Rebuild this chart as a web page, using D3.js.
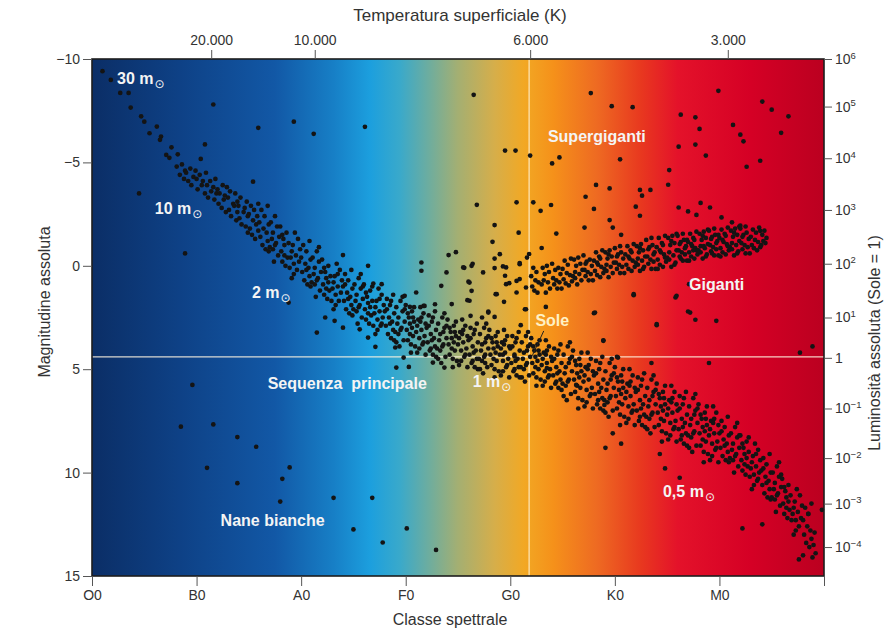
<!DOCTYPE html>
<html><head><meta charset="utf-8">
<script src="https://cdn.jsdelivr.net/npm/d3@7"></script>
<style>
body{margin:0;background:#fff}
text{font-family:"Liberation Sans",Arial,Helvetica,sans-serif}
</style>
</head><body>
<svg id="chart" width="889" height="631"></svg>
<script>
// ---------- axis / tick data ----------
const spectralClasses = ["O0","B0","A0","F0","G0","K0","M0",""];
const tempTickLabels = ["20.000","10.000","6.000","3.000"];
const tempTickClass = [1.14, 2.13, 4.19, 6.08];
const magTicks = [-10,-5,0,5,10,15];
const lumExponents = [6,5,4,3,2,1,0,-1,-2,-3,-4];
const lumTickMag = [-10,-7.7,-5.2,-2.7,-0.1,2.5,4.45,6.9,9.3,11.5,13.6];
const sunPosition = [4.18, 4.4]; // [spectral class, magnitude]

// ---------- stars: [spectral class position, absolute magnitude] ----------
const upperMainSequence = [[0.10,-9.41],[0.18,-8.99],[0.27,-8.36],[0.35,-8.36],[0.37,-7.65],[0.47,-7.23],[0.50,-6.97],[0.62,-6.73],[0.55,-6.41],[0.66,-6.25],[0.65,-6.09],[0.76,-5.73],[0.71,-5.36],[0.74,-5.22],[0.82,-5.39],[1.04,-5.17],
[0.81,-4.8],[0.84,-4.4],[0.86,-4.9],[0.88,-4.2],[0.89,-4.6],
[0.90,-4.5],[0.92,-4.1],[0.94,-4.7],[0.95,-3.9],[0.97,-4.3],[0.99,-4.6],
[1.00,-4.2],[1.01,-3.7],[1.03,-4.4],[1.05,-3.9],[1.06,-4.1],[1.08,-3.5],[1.09,-4.5],
[1.10,-3.9],[1.11,-3.3],[1.13,-4.1],[1.14,-3.6],[1.16,-3.8],[1.17,-3.2],[1.18,-4.2],[1.19,-3.5],
[1.20,-3.7],[1.21,-3.0],[1.22,-3.5],[1.24,-2.8],[1.25,-3.9],[1.26,-3.2],[1.27,-3.4],[1.28,-2.6],[1.29,-3.8],
[1.30,-3.3],[1.31,-2.7],[1.32,-3.6],[1.33,-2.4],[1.35,-3.0],[1.36,-2.9],[1.37,-3.5],[1.38,-2.2],[1.39,-3.1],[1.39,-2.6],
[1.40,-2.9],[1.41,-2.3],[1.42,-3.3],[1.43,-2.0],[1.45,-2.6],[1.46,-2.8],[1.47,-1.9],[1.48,-3.1],[1.49,-2.4],[1.49,-1.6],
[1.50,-2.5],[1.51,-1.8],[1.52,-2.9],[1.53,-1.5],[1.54,-2.2],[1.55,-2.7],[1.56,-1.3],[1.57,-2.0],[1.58,-2.4],[1.59,-1.7],[1.59,-3.0]];

const mainSequence = [
[1.60,-2.1],[1.61,-1.4],[1.62,-2.7],[1.63,-1.0],[1.64,-1.8],[1.65,-2.4],[1.66,-0.8],[1.67,-1.6],[1.68,-2.9],[1.68,-1.2],[1.69,-2.0],[1.69,-0.7],
[1.70,-0.9],[1.71,-2.1],[1.72,-1.3],[1.73,-1.6],[1.74,-0.2],[1.75,-2.4],[1.76,-1.1],[1.77,-1.9],[1.78,-0.5],[1.79,-1.4],[1.73,-0.8],[1.75,-1.0],
[1.80,-1.9],[1.81,-0.7],[1.82,-0.2],[1.83,-1.3],[1.84,-1.0],[1.85,0.0],[1.86,-1.6],[1.87,-0.4],[1.88,-1.1],[1.89,0.1],[1.82,-1.5],[1.84,-0.5],
[1.90,-0.4],[1.91,0.6],[1.92,-1.0],[1.93,-0.1],[1.94,-1.6],[1.95,-0.5],[1.96,0.2],[1.97,-1.3],[1.98,-0.2],[1.99,-0.8],[1.91,-0.7],[1.93,0.4],
[2.00,-0.4],[2.01,0.3],[2.02,-1.0],[2.03,0.7],[2.04,-0.1],[2.05,-0.7],[2.06,0.9],[2.07,0.1],[2.08,-1.2],[2.08,0.5],[2.09,-0.3],[2.09,1.0],[2.05,0.2],
[2.10,0.8],[2.11,-0.4],[2.12,0.4],[2.13,0.1],[2.14,1.5],[2.15,-0.7],[2.16,0.6],[2.17,-0.2],[2.18,1.2],[2.19,0.3],[2.13,0.9],[2.15,0.7],[2.17,-0.9],
[2.20,-0.3],[2.21,0.9],[2.22,1.4],[2.23,0.3],[2.24,0.6],[2.25,1.6],[2.26,0.0],[2.27,1.2],[2.28,0.5],[2.29,1.7],[2.22,0.1],[2.24,1.1],[2.26,0.8],
[2.30,1.1],[2.31,2.1],[2.32,0.5],[2.33,1.4],[2.34,-0.1],[2.35,1.0],[2.36,1.7],[2.37,0.2],[2.38,1.3],[2.39,0.7],[2.31,0.8],[2.33,1.9],[2.35,0.4],
[2.40,1.0],[2.41,1.7],[2.42,0.4],[2.43,2.1],[2.44,1.3],[2.45,0.7],[2.46,2.3],[2.47,1.5],[2.48,0.2],[2.48,1.9],[2.49,1.1],[2.49,2.4],[2.45,1.6],[2.42,0.9],
[2.50,2.1],[2.51,0.9],[2.52,1.7],[2.53,1.4],[2.54,2.8],[2.55,0.6],[2.56,1.9],[2.57,1.1],[2.58,2.5],[2.59,1.6],[2.53,2.2],[2.55,2.0],[2.57,0.4],[2.59,1.0],
[2.60,0.9],[2.61,2.1],[2.62,2.6],[2.63,1.5],[2.64,1.8],[2.65,2.8],[2.66,1.2],[2.67,2.4],[2.68,1.7],[2.69,2.9],[2.62,1.3],[2.64,2.3],[2.66,2.0],[2.68,1.0],
[2.70,2.3],[2.71,3.3],[2.72,1.7],[2.73,2.6],[2.74,1.1],[2.75,2.2],[2.76,2.9],[2.77,1.4],[2.78,2.5],[2.79,1.9],[2.71,2.0],[2.73,3.1],[2.75,1.6],[2.77,2.8],
[2.80,2.2],[2.81,2.9],[2.82,1.6],[2.83,3.3],[2.84,2.5],[2.85,1.9],[2.86,3.5],[2.87,2.7],[2.88,1.4],[2.88,3.1],[2.89,2.3],[2.89,3.6],[2.85,2.8],[2.82,2.1],[2.86,1.7],
[2.90,3.2],[2.91,2.0],[2.92,2.8],[2.93,2.5],[2.94,3.9],[2.95,1.7],[2.96,3.0],[2.97,2.2],[2.98,3.6],[2.99,2.7],[2.93,3.3],[2.95,3.1],[2.97,1.5],[2.99,2.1],[2.91,3.7],
[3.00,1.9],[3.01,3.1],[3.02,3.6],[3.03,2.5],[3.04,2.8],[3.05,3.8],[3.06,2.2],[3.07,3.4],[3.08,2.7],[3.09,3.9],[3.02,2.3],[3.04,3.3],[3.06,3.0],[3.08,2.0],[3.05,4.2],[3.07,2.5],
[3.10,3.2],[3.11,4.2],[3.12,2.6],[3.13,3.5],[3.14,2.0],[3.15,3.1],[3.16,3.8],[3.17,2.3],[3.18,3.4],[3.19,2.8],[3.11,2.9],[3.13,4.0],[3.15,2.5],[3.17,3.7],[3.19,4.3],[3.14,2.7],
[3.20,3.0],[3.21,3.7],[3.22,2.4],[3.23,4.1],[3.24,3.3],[3.25,2.7],[3.26,4.3],[3.27,3.5],[3.28,2.2],[3.28,3.9],[3.29,3.1],[3.29,4.4],[3.25,3.6],[3.22,2.9],[3.26,2.5],[3.24,4.0],
[3.30,4.0],[3.31,2.8],[3.32,3.6],[3.33,3.3],[3.34,4.7],[3.35,2.5],[3.36,3.8],[3.37,3.0],[3.38,4.4],[3.39,3.5],[3.33,4.1],[3.35,3.9],[3.37,2.3],[3.39,2.9],[3.31,4.5],[3.36,3.2],
[3.40,2.6],[3.41,3.8],[3.42,4.3],[3.43,3.2],[3.44,3.5],[3.45,4.5],[3.46,2.9],[3.47,4.1],[3.48,3.4],[3.49,4.6],[3.42,3.0],[3.44,4.0],[3.46,3.7],[3.48,2.7],[3.45,4.9],[3.47,3.2],
[3.50,3.8],[3.51,4.8],[3.52,3.2],[3.53,4.1],[3.54,2.6],[3.55,3.7],[3.56,4.4],[3.57,2.9],[3.58,4.0],[3.59,3.4],[3.51,3.5],[3.53,4.6],[3.55,3.1],[3.57,4.3],[3.59,4.9],[3.54,3.3],
[3.60,3.6],[3.61,4.3],[3.62,3.0],[3.63,4.7],[3.64,3.9],[3.65,3.3],[3.66,4.9],[3.67,4.1],[3.68,2.8],[3.68,4.5],[3.69,3.7],[3.69,5.0],[3.65,4.2],[3.62,3.5],[3.66,3.1],[3.64,4.6],
[3.70,4.5],[3.71,3.3],[3.72,4.1],[3.73,3.8],[3.74,5.2],[3.75,3.0],[3.76,4.3],[3.77,3.5],[3.78,4.9],[3.79,4.0],[3.73,4.6],[3.75,4.4],[3.77,2.8],[3.79,3.4],[3.71,5.0],[3.76,3.7],
[3.80,3.1],[3.81,4.3],[3.82,4.8],[3.83,3.7],[3.84,4.0],[3.85,5.0],[3.86,3.4],[3.87,4.6],[3.88,3.9],[3.89,5.1],[3.82,3.5],[3.84,4.5],[3.86,4.2],[3.88,3.2],[3.85,5.4],[3.87,3.7],
[3.90,4.3],[3.91,5.3],[3.92,3.7],[3.93,4.6],[3.94,3.1],[3.95,4.2],[3.96,4.9],[3.97,3.4],[3.98,4.5],[3.99,3.9],[3.91,4.0],[3.93,5.1],[3.95,3.6],[3.97,4.8],[3.99,5.4],[3.94,3.8],
[4.00,4.0],[4.01,4.7],[4.02,3.4],[4.03,5.1],[4.04,4.3],[4.05,3.7],[4.06,5.3],[4.07,4.5],[4.08,3.2],[4.08,4.9],[4.09,4.1],[4.09,5.4],[4.05,4.6],[4.02,3.9],[4.06,3.5],[4.04,5.0],
[4.10,4.9],[4.11,3.7],[4.12,4.5],[4.13,4.2],[4.14,5.6],[4.15,3.4],[4.16,4.7],[4.17,3.9],[4.18,5.3],[4.19,4.4],[4.13,5.0],[4.15,4.8],[4.17,3.2],[4.19,3.8],[4.11,5.4],[4.16,4.1],
[4.20,3.5],[4.21,4.7],[4.22,5.2],[4.23,4.1],[4.24,4.4],[4.25,5.4],[4.26,3.8],[4.27,5.0],[4.28,4.3],[4.29,5.5],[4.22,3.9],[4.24,4.9],[4.26,4.6],[4.28,3.6],[4.25,5.8],[4.27,4.1],
[4.30,4.8],[4.31,5.8],[4.32,4.2],[4.33,5.1],[4.34,3.6],[4.35,4.7],[4.36,5.4],[4.37,3.9],[4.38,5.0],[4.39,4.4],[4.31,4.5],[4.33,5.6],[4.35,4.1],[4.37,5.3],[4.39,5.9],[4.34,4.3],
[4.40,4.6],[4.41,5.3],[4.42,4.0],[4.43,5.7],[4.44,4.9],[4.45,4.3],[4.46,5.9],[4.47,5.1],[4.48,3.8],[4.48,5.5],[4.49,4.7],[4.49,6.0],[4.45,5.2],[4.42,4.5],[4.46,4.1],[4.44,5.6],
[4.50,5.7],[4.51,4.3],[4.52,5.2],[4.53,4.9],[4.54,6.5],[4.55,3.9],[4.56,5.5],[4.57,4.5],[4.58,6.2],[4.59,5.1],[4.53,5.8],[4.55,5.6],[4.57,3.7],[4.59,4.4],[4.51,6.3],[4.56,4.7],
[4.60,4.1],[4.61,5.5],[4.62,6.1],[4.63,4.8],[4.64,5.2],[4.65,6.4],[4.66,4.5],[4.67,5.9],[4.68,5.1],[4.69,6.5],[4.62,4.6],[4.64,5.8],[4.66,5.4],[4.68,4.2],[4.65,6.9],[4.67,4.8],
[4.70,5.6],[4.71,6.8],[4.72,4.9],[4.73,6.0],[4.74,4.2],[4.75,5.5],[4.76,6.3],[4.77,4.5],[4.78,5.9],[4.79,5.1],[4.71,5.3],[4.73,6.6],[4.75,4.8],[4.77,6.2],[4.79,6.9],[4.74,5.0],
[4.80,5.3],[4.81,6.2],[4.82,4.6],[4.83,6.7],[4.84,5.7],[4.85,5.0],[4.86,6.9],[4.87,5.9],[4.88,4.4],[4.88,6.4],[4.89,5.5],[4.89,7.0],[4.85,6.1],[4.82,5.2],[4.86,4.7],[4.84,6.5],
[4.90,6.5],[4.91,5.1],[4.92,6.0],[4.93,5.7],[4.94,7.3],[4.95,4.7],[4.96,6.3],[4.97,5.3],[4.98,7.0],[4.99,5.9],[4.93,6.6],[4.95,6.4],[4.97,4.5],[4.99,5.2],[4.91,7.1],[4.96,5.5],
[5.00,4.9],[5.01,6.3],[5.02,6.9],[5.03,5.6],[5.04,6.0],[5.05,7.2],[5.06,5.3],[5.07,6.7],[5.08,5.9],[5.09,7.3],[5.02,5.4],[5.04,6.6],[5.06,6.2],[5.08,5.0],[5.05,7.7],[5.07,5.6],
[5.10,6.4],[5.11,7.6],[5.12,5.7],[5.13,6.8],[5.14,5.0],[5.15,6.3],[5.16,7.1],[5.17,5.3],[5.18,6.7],[5.19,5.9],[5.11,6.1],[5.13,7.4],[5.15,5.6],[5.17,7.0],[5.19,7.7],[5.14,5.8],
[5.20,6.1],[5.21,7.0],[5.22,5.4],[5.23,7.5],[5.24,6.5],[5.25,5.8],[5.26,7.7],[5.27,6.7],[5.28,5.2],[5.28,7.2],[5.29,6.3],[5.29,7.8],[5.25,6.9],[5.22,6.0],[5.26,5.5],[5.24,7.3],
[5.30,7.3],[5.31,5.9],[5.32,6.8],[5.33,6.5],[5.34,8.1],[5.35,5.5],[5.36,7.1],[5.37,6.1],[5.38,7.8],[5.39,6.7],[5.33,7.4],[5.35,7.2],[5.37,5.3],[5.39,6.0],[5.31,7.9],[5.36,6.3],
[5.40,5.7],[5.41,7.1],[5.42,7.7],[5.43,6.4],[5.44,6.8],[5.45,8.0],[5.46,6.1],[5.47,7.5],[5.48,6.7],[5.49,8.1],[5.42,6.2],[5.44,7.4],[5.46,7.0],[5.48,5.8],[5.45,8.5],[5.47,6.4],
[5.50,7.2],[5.51,8.4],[5.52,6.5],[5.53,7.6],[5.54,5.8],[5.55,7.1],[5.56,7.9],[5.57,6.1],[5.58,7.5],[5.59,6.7],[5.51,6.9],[5.53,8.2],[5.55,6.4],[5.57,7.8],[5.59,8.5],[5.54,6.6],
[5.60,7.0],[5.61,7.9],[5.62,6.3],[5.63,8.4],[5.64,7.4],[5.65,6.7],[5.66,8.6],[5.67,7.6],[5.68,6.1],[5.68,8.1],[5.69,7.2],[5.69,8.7],[5.65,7.8],[5.62,6.9],[5.66,6.4],[5.64,8.2],
[5.70,8.2],[5.71,6.8],[5.72,7.7],[5.73,7.4],[5.74,9.0],[5.75,6.4],[5.76,8.0],[5.77,7.0],[5.78,8.7],[5.79,7.6],[5.73,8.3],[5.75,8.1],[5.77,6.2],[5.79,6.9],[5.71,8.8],[5.76,7.2],
[5.80,6.7],[5.81,8.1],[5.82,8.7],[5.83,7.4],[5.84,7.8],[5.85,9.0],[5.86,7.1],[5.87,8.5],[5.88,7.7],[5.89,9.1],[5.82,7.2],[5.84,8.4],[5.86,8.0],[5.88,6.8],[5.85,9.5],[5.87,7.4],
[5.90,8.2],[5.91,9.4],[5.92,7.5],[5.93,8.6],[5.94,6.8],[5.95,8.1],[5.96,8.9],[5.97,7.1],[5.98,8.5],[5.99,7.7],[5.91,7.9],[5.93,9.2],[5.95,7.4],[5.97,8.8],[5.99,9.5],[5.94,7.6],
[6.00,8.1],[6.01,8.8],[6.02,7.5],[6.03,9.2],[6.04,8.4],[6.05,7.8],[6.06,9.4],[6.07,8.6],[6.08,7.3],[6.08,9.0],[6.09,8.2],[6.09,9.5],[6.05,8.7],[6.02,8.0],
[6.10,9.3],[6.11,8.1],[6.12,8.9],[6.13,8.6],[6.14,10.0],[6.15,7.8],[6.16,9.1],[6.17,8.3],[6.18,9.7],[6.19,8.8],[6.13,9.4],[6.15,9.2],[6.17,7.6],[6.19,8.2],
[6.20,8.2],[6.21,9.4],[6.22,9.9],[6.23,8.8],[6.24,9.1],[6.25,10.1],[6.26,8.5],[6.27,9.7],[6.28,9.0],[6.29,10.2],[6.22,8.6],[6.24,9.6],[6.26,9.3],[6.28,8.3],
[6.30,9.8],[6.31,10.8],[6.32,9.2],[6.33,10.1],[6.34,8.6],[6.35,9.7],[6.36,10.4],[6.37,8.9],[6.38,10.0],[6.39,9.4],[6.31,9.5],[6.33,10.6],[6.35,9.1],[6.37,10.3],
[6.40,9.9],[6.41,10.6],[6.42,9.3],[6.43,11.0],[6.44,10.2],[6.45,9.6],[6.46,11.2],[6.47,10.4],[6.48,9.1],[6.48,10.8],[6.49,10.0],[6.49,11.3],[6.45,10.5],[6.42,9.8],
[6.50,11.2],[6.51,10.0],[6.52,10.8],[6.53,10.5],[6.54,11.9],[6.55,9.7],[6.56,11.0],[6.57,10.2],[6.58,11.6],[6.59,10.7],[6.53,11.3],[6.55,11.1],[6.57,9.5],[6.59,10.1],
[6.60,10.3],[6.61,11.5],[6.62,12.0],[6.63,10.9],[6.64,11.2],[6.65,12.2],[6.66,10.6],[6.67,11.8],[6.68,11.1],[6.69,12.3],[6.62,10.7],[6.64,11.7],[6.66,11.4],
[6.70,12.0],[6.71,13.0],[6.72,11.4],[6.73,12.3],[6.74,10.8],[6.75,11.9],[6.76,12.6],[6.77,11.1],[6.78,12.2],[6.79,11.6],[6.71,11.7],[6.73,12.8],
[6.80,12.3],[6.81,13.0],[6.82,11.7],[6.83,13.4],[6.84,12.6],[6.85,12.0],[6.86,13.6],[6.87,12.8],[6.88,11.5],[6.88,13.2],
[6.90,13.5],[6.91,12.9],[6.92,13.9],[6.89,14.1],[6.76,14.2],[6.80,14.0]];

const giants = [
[4.20,0.5],[4.21,1.0],[4.22,0.1],[4.23,1.2],[4.24,0.7],[4.25,0.3],[4.26,1.3],[4.27,0.8],
[4.30,0.9],[4.31,0.1],[4.32,0.7],[4.33,0.4],[4.34,1.3],[4.35,0.0],[4.36,0.8],[4.37,0.3],[4.38,1.1],
[4.40,-0.1],[4.41,0.6],[4.42,0.9],[4.43,0.2],[4.44,0.7],[4.45,1.1],[4.46,0.1],[4.47,0.8],[4.48,0.4],[4.49,1.1],
[4.50,0.15],[4.51,0.65],[4.52,-0.25],[4.53,0.85],[4.54,0.35],[4.55,-0.05],[4.56,0.95],[4.57,0.45],[4.58,-0.35],[4.59,0.75],
[4.60,0.5],[4.61,-0.3],[4.62,0.3],[4.63,0.0],[4.64,0.9],[4.65,-0.4],[4.66,0.4],[4.67,-0.1],[4.68,0.7],[4.69,0.2],[4.62,0.6],
[4.70,-0.5],[4.71,0.2],[4.72,0.5],[4.73,-0.2],[4.74,0.3],[4.75,0.7],[4.76,-0.3],[4.77,0.4],[4.78,0.0],[4.79,0.7],[4.72,-0.1],
[4.80,-0.25],[4.81,0.25],[4.82,-0.65],[4.83,0.45],[4.84,-0.05],[4.85,-0.45],[4.86,0.55],[4.87,0.05],[4.88,-0.75],[4.89,0.35],[4.83,-0.15],[4.86,-0.35],
[4.90,0.15],[4.91,-0.65],[4.92,-0.05],[4.93,-0.35],[4.94,0.55],[4.95,-0.75],[4.96,0.05],[4.97,-0.45],[4.98,0.35],[4.99,-0.15],[4.92,0.25],[4.94,-0.55],
[5.00,-0.85],[5.01,-0.15],[5.02,0.15],[5.03,-0.55],[5.04,-0.05],[5.05,0.35],[5.06,-0.65],[5.07,0.05],[5.08,-0.35],[5.09,0.35],[5.02,-0.45],[5.05,-0.95],
[5.10,-0.55],[5.11,-0.05],[5.12,-0.95],[5.13,0.15],[5.14,-0.35],[5.15,-0.75],[5.16,0.25],[5.17,-0.25],[5.18,-1.05],[5.19,0.05],[5.13,-0.45],[5.16,-0.65],
[5.20,-0.15],[5.21,-0.95],[5.22,-0.35],[5.23,-0.65],[5.24,0.25],[5.25,-1.05],[5.26,-0.25],[5.27,-0.75],[5.28,0.05],[5.29,-0.45],[5.22,-0.05],[5.24,-0.85],[5.27,0.15],
[5.30,-1.25],[5.31,-0.45],[5.32,-0.1],[5.33,-0.9],[5.34,-0.3],[5.35,0.15],[5.36,-1.0],[5.37,-0.2],[5.38,-0.65],[5.39,0.15],[5.32,-0.8],[5.35,-1.35],[5.37,-0.55],
[5.40,-0.9],[5.41,-0.3],[5.42,-1.35],[5.43,-0.05],[5.44,-0.65],[5.45,-1.1],[5.46,0.05],[5.47,-0.55],[5.48,-1.45],[5.49,-0.2],[5.43,-0.75],[5.46,-1.0],[5.48,-0.4],[5.41,0.15],
[5.50,-0.4],[5.51,-1.35],[5.52,-0.65],[5.53,-1.0],[5.54,0.05],[5.55,-1.45],[5.56,-0.5],[5.57,-1.1],[5.58,-0.15],[5.59,-0.75],[5.52,-0.3],[5.54,-1.2],[5.57,-0.05],[5.59,-1.55],
[5.60,-1.45],[5.61,-0.75],[5.62,-0.45],[5.63,-1.15],[5.64,-0.65],[5.65,-0.25],[5.66,-1.25],[5.67,-0.55],[5.68,-0.95],[5.69,-0.25],[5.62,-1.05],[5.65,-1.55],[5.67,-0.85],[5.63,-0.35],[5.69,-1.25],
[5.70,-1.15],[5.71,-0.65],[5.72,-1.55],[5.73,-0.45],[5.74,-0.95],[5.75,-1.35],[5.76,-0.35],[5.77,-0.85],[5.78,-1.65],[5.79,-0.55],[5.73,-1.05],[5.76,-1.25],[5.78,-0.75],[5.71,-0.25],[5.75,-0.75],
[5.80,-0.75],[5.81,-1.55],[5.82,-0.95],[5.83,-1.25],[5.84,-0.35],[5.85,-1.65],[5.86,-0.85],[5.87,-1.35],[5.88,-0.55],[5.89,-1.05],[5.82,-0.65],[5.84,-1.45],[5.87,-0.45],[5.89,-1.75],[5.85,-0.95],
[5.90,-1.7],[5.91,-1.0],[5.92,-0.7],[5.93,-1.4],[5.94,-0.9],[5.95,-0.5],[5.96,-1.5],[5.97,-0.8],[5.98,-1.2],[5.99,-0.5],[5.92,-1.3],[5.95,-1.8],[5.97,-1.1],[5.93,-0.6],[5.99,-1.5],
[6.00,-1.35],[6.01,-0.85],[6.02,-1.75],[6.03,-0.65],[6.04,-1.15],[6.05,-1.55],[6.06,-0.55],[6.07,-1.05],[6.08,-1.85],[6.09,-0.75],[6.03,-1.25],[6.06,-1.45],[6.08,-0.95],[6.01,-0.45],
[6.10,-0.9],[6.11,-1.7],[6.12,-1.1],[6.13,-1.4],[6.14,-0.5],[6.15,-1.8],[6.16,-1.0],[6.17,-1.5],[6.18,-0.7],[6.19,-1.2],[6.12,-0.8],[6.14,-1.6],[6.17,-0.6],[6.19,-1.9],
[6.20,-1.8],[6.21,-1.1],[6.22,-0.8],[6.23,-1.5],[6.24,-1.0],[6.25,-0.6],[6.26,-1.6],[6.27,-0.9],[6.28,-1.3],[6.29,-0.6],[6.22,-1.4],[6.25,-1.9],
[6.30,-1.4],[6.31,-1.0],[6.32,-1.75],[6.33,-0.85],[6.34,-1.25],[6.35,-1.6],[6.36,-0.75],[6.37,-1.15],[6.38,-1.85],[6.39,-0.9],
[6.40,-1.0],[6.41,-1.5],[6.42,-1.2],[6.43,-1.7],[6.44,-1.1],[6.45,-1.35]];

const scatteredStars = [
[3.65,-8.27],[4.77,-8.35],[4.97,-7.72],[5.17,-7.67],[5.99,-8.46],[6.41,-7.94],[6.50,-7.55],[6.66,-7.23],[5.63,-7.31],[5.77,-7.18],[5.81,-6.62],[6.13,-6.81],[6.20,-6.34],[6.23,-6.02],[6.59,-6.43],[5.61,-5.76],[5.77,-5.86],[5.87,-5.33],[6.39,-5.08],[6.26,-4.79],[5.52,-4.63],[5.51,-3.92],
[3.95,-5.57],[4.05,-5.57],[4.19,-5.33],[4.40,-4.95],[4.47,-5.24],[5.05,-5.15],[4.82,-3.91],[4.95,-3.74],[5.24,-3.67],[5.34,-3.67],[5.26,-3.39],[4.72,-3.34],[3.68,-2.95],[4.06,-3.07],[4.22,-3.07],[4.39,-2.94],[4.29,-2.66],[4.80,-2.75],[5.20,-2.86],[5.24,-2.42],[5.61,-2.82],[5.70,-2.63],[5.82,-3.04],[5.78,-2.46],[6.02,-2.34],[4.95,-2.21],[3.85,-1.97],[4.71,-1.85],[4.98,-1.85],[4.08,-1.60],[4.44,-1.56],[5.06,-1.50],[3.83,-1.16],[4.18,-0.57],[4.30,-0.86],
[3.41,-0.52],[3.48,-0.66],[3.85,-0.35],[3.64,-0.10],[3.56,0.10],[3.39,0.32],[3.74,0.32],[3.85,0.11],[4.09,-0.13],[3.96,0.08],[3.34,0.97],[3.60,0.77],[3.63,1.21],[3.95,0.48],[3.99,0.84],[4.09,0.64],[4.15,1.05],[3.86,1.37],[4.06,1.29],[3.44,1.85],[3.59,1.66],[3.94,1.74],[4.15,2.10],[4.34,1.99],[3.79,2.21],[3.73,2.50],[3.85,2.47],[3.62,2.42],[4.10,2.87],[4.80,2.29],[5.18,1.42],[5.58,1.53],[5.70,2.21],[5.77,2.61],[5.97,2.66],[5.40,2.87],[5.91,-2.82],[6.12,-2.10],[6.20,-1.94],[6.39,-1.69],
[1.16,-7.80],[1.59,-6.67],[1.93,-6.97],[2.12,-6.38],[2.61,-6.72],[1.54,-4.07],[0.45,-3.5],[0.89,-0.6],[1.08,-5.87],
[2.40,-0.52],[2.64,0.0],[3.15,-0.16],[3.15,0.24],[2.77,0.89],[2.69,0.86],[2.99,1.45],[3.10,1.29],[3.04,1.99],[3.17,1.94],[3.28,1.86],[2.15,3.23],[1.88,1.78],[2.23,2.50],[2.32,2.66],[2.40,2.99],[2.56,3.07],[2.64,3.47],[2.71,3.92],[2.91,4.92],[2.98,4.44],[3.03,4.89],[3.26,4.68],[3.37,4.92],[2.90,3.95],
[3.55,0.08],[3.63,0.0],[3.61,0.81],[3.90,-0.56],[3.93,0.03],[4.09,-0.08],[4.16,-0.40],[4.06,0.73],[3.61,1.69],[3.87,1.37],[3.96,0.89],[3.79,2.26],[4.14,2.10],[3.18,1.94],[3.93,4.30],[4.04,4.38],[3.76,4.70],[4.35,4.95],[4.63,5.76],[4.90,6.73],[4.81,2.26],[4.89,3.63],[5.03,4.44],[5.40,2.82],[5.72,2.26],[5.59,1.45],[5.18,1.37],[5.71,0.89],
[6.98,11.8],[6.85,12.0],[6.77,4.2],[6.89,3.9],[6.22,12.7],[6.41,12.5],[5.90,4.7],[5.35,4.7],[5.02,4.4],[4.89,3.6],[4.91,8.8],[5.06,8.6],[4.98,8.1],[5.62,10.25],[5.43,9.1],[5.48,9.8]];

const whiteDwarfs = [[0.96,5.76],[0.85,7.78],[1.16,7.67],[1.39,8.28],[1.57,8.75],[1.10,9.77],[1.89,9.75],[1.82,10.30],[1.39,10.51],[1.80,11.40],[2.31,11.22],[2.68,11.22],[2.50,12.75],[3.01,12.70],[2.78,13.38],[3.29,13.74]];

// ---------- layout ----------
const plot = {left: 92, right: 824, top: 59, bottom: 576};
const svg = d3.select("#chart");
const x = d3.scaleLinear().domain([0, 7]).range([plot.left, plot.right]);
const y = d3.scaleLinear().domain([-10, 15]).range([plot.top, plot.bottom]);

// background gradient
const defs = svg.append("defs");
const grad = defs.append("linearGradient").attr("id","bg").attr("x1","0%").attr("x2","100%").attr("y1","0%").attr("y2","0%");
[[0,"#0b2e66"],[0.12,"#0e4186"],[0.25,"#1258a6"],[0.33,"#177fc6"],[0.38,"#1c9fde"],[0.42,"#39a9cb"],[0.46,"#6dad9f"],[0.50,"#a4af72"],[0.55,"#d6ae4a"],[0.59,"#f2a824"],[0.63,"#f5911a"],[0.69,"#ee6a22"],[0.75,"#e8381f"],[0.80,"#e4122a"],[0.90,"#d50025"],[1,"#bb0020"]]
  .forEach(([o,c]) => grad.append("stop").attr("offset", o).attr("stop-color", c));

svg.append("rect").attr("x", plot.left).attr("y", plot.top)
  .attr("width", plot.right-plot.left).attr("height", plot.bottom-plot.top)
  .attr("fill","url(#bg)");

// sun reference lines
svg.append("line").attr("x1", plot.left).attr("x2", plot.right)
  .attr("y1", y(sunPosition[1])).attr("y2", y(sunPosition[1]))
  .attr("stroke","#fff4e0").attr("stroke-opacity",0.85).attr("stroke-width",1.2);
svg.append("line").attr("x1", x(sunPosition[0])).attr("x2", x(sunPosition[0]))
  .attr("y1", plot.top).attr("y2", plot.bottom)
  .attr("stroke","#fff4d8").attr("stroke-opacity",0.85).attr("stroke-width",1.2);

// stars
const allStars = [].concat(upperMainSequence, mainSequence, giants, scatteredStars, whiteDwarfs);
svg.append("g").selectAll("circle").data(allStars).join("circle")
  .attr("cx", d => x(d[0])).attr("cy", d => y(d[1])).attr("r", 2.35)
  .attr("fill","#141414");

// plot frame
svg.append("rect").attr("x", plot.left).attr("y", plot.top)
  .attr("width", plot.right-plot.left).attr("height", plot.bottom-plot.top)
  .attr("fill","none").attr("stroke","#1d1d1d").attr("stroke-width",1.6);

// axes
function styleAxis(g){
  g.select(".domain").remove();
  g.selectAll(".tick line").attr("stroke","#555").attr("stroke-width",1);
  g.selectAll(".tick text").attr("fill","#333").style("font-size","14px");
}
const fmtMinus = d => d < 0 ? "\u2212" + (-d) : String(d);

svg.append("g").attr("transform",`translate(${plot.left},0)`)
  .call(d3.axisLeft(y).tickValues(magTicks).tickSize(9).tickPadding(3).tickFormat(fmtMinus))
  .call(styleAxis);

svg.append("g").attr("transform",`translate(0,${plot.bottom})`)
  .call(d3.axisBottom(x).tickValues(d3.range(spectralClasses.length)).tickSize(10).tickPadding(4)
    .tickFormat(i => spectralClasses[i]))
  .call(styleAxis);

svg.append("g").attr("transform",`translate(0,${plot.top})`)
  .call(d3.axisTop(x).tickValues(tempTickClass).tickSize(9).tickPadding(5)
    .tickFormat((d,i) => tempTickLabels[i]))
  .call(styleAxis);

const rightAxis = svg.append("g").attr("transform",`translate(${plot.right},0)`)
  .call(d3.axisRight(y).tickValues(lumTickMag).tickSize(8).tickPadding(3).tickFormat(() => ""))
  .call(styleAxis);
rightAxis.selectAll(".tick text").each(function(d,i){
  const e = lumExponents[i];
  const t = d3.select(this);
  if (e === 0) { t.text("1"); return; }
  t.text("10");
  t.append("tspan").attr("dy","-0.55em").style("font-size","9.5px").text(fmtMinus(e));
});

// axis titles
svg.append("text").attr("x", 460).attr("y", 21).attr("text-anchor","middle")
  .attr("fill","#333").style("font-size","17px").text("Temperatura superficiale (K)");
svg.append("text").attr("x", 450).attr("y", 625).attr("text-anchor","middle")
  .attr("fill","#333").style("font-size","16px").text("Classe spettrale");
svg.append("text").attr("transform","translate(50,302) rotate(-90)").attr("text-anchor","middle")
  .attr("fill","#333").style("font-size","16px").text("Magnitudine assoluta");
svg.append("text").attr("transform","translate(880,343) rotate(-90)").attr("text-anchor","middle")
  .attr("fill","#333").style("font-size","16px").text("Luminosità assoluta (Sole = 1)");

// annotations (positions in chart units)
const annotations = [
  {c:0.24, m:-8.79, text:"30 m", sun:true},
  {c:0.60, m:-2.50, text:"10 m", sun:true},
  {c:1.53, m:1.56, text:"2 m", sun:true},
  {c:1.68, m:5.96, text:"Sequenza  principale"},
  {c:3.64, m:5.86, text:"1 m", sun:true},
  {c:4.24, m:2.90, text:"Sole", color:"#fff1c4"},
  {c:4.36, m:-5.98, text:"Supergiganti"},
  {c:5.71, m:1.16, text:"Giganti"},
  {c:5.46, m:11.2, text:"0,5 m", sun:true},
  {c:1.23, m:12.56, text:"Nane bianche"}
];
const ag = svg.append("g");
annotations.forEach(a => {
  const t = ag.append("text").attr("x", x(a.c)).attr("y", y(a.m))
    .attr("fill", a.color || "#f4f4f4").style("font-size","16px").style("font-weight","bold")
    .style("white-space","pre").text(a.text);
  if (a.sun) t.append("tspan").attr("dy","4").attr("dx","1").style("font-size","12px").style("font-weight","normal")
    .style("font-family","DejaVu Sans").text("\u2299");
});
// pointer from "Sole" label to the Sun
svg.append("line").attr("x1", x(4.32)).attr("y1", y(3.15)).attr("x2", x(4.21)).attr("y2", y(4.35))
  .attr("stroke","#222").attr("stroke-width",1);
</script>
</body></html>
